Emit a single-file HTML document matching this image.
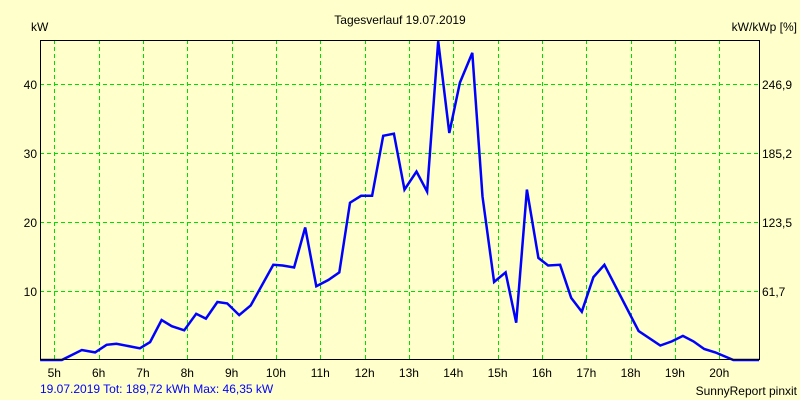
<!DOCTYPE html>
<html><head><meta charset="utf-8"><style>
html,body{margin:0;padding:0;background:#ffffcc;}
svg{display:block;font-family:"Liberation Sans",sans-serif;font-size:12px;}
</style></head><body>
<svg id="chart" width="800" height="400" viewBox="0 0 800 400">
<rect x="0" y="0" width="800" height="400" fill="#ffffcc"/>
<text x="400" y="24" text-anchor="middle" fill="#000">Tagesverlauf 19.07.2019</text>
<text x="31" y="31" fill="#000">kW</text>
<text x="797" y="31" text-anchor="end" fill="#000">kW/kWp [%]</text>
<g id="grid"></g>
<g id="axes"></g>
<g id="series"></g>
<rect x="40.5" y="40.5" width="719" height="319" fill="none" stroke="#000" stroke-width="1"/>
<text x="40" y="393" fill="#0000ff">19.07.2019 Tot: 189,72 kWh Max: 46,35 kW</text>
<text x="797" y="395" text-anchor="end" fill="#000">SunnyReport pinxit</text>
</svg>
<script>
const times=[4.68,5.17,5.62,5.92,6.18,6.4,6.93,7.16,7.42,7.65,7.93,8.2,8.42,8.68,8.9,9.17,9.43,9.94,10.15,10.41,10.66,10.91,11.18,11.43,11.67,11.92,12.17,12.42,12.66,12.9,13.17,13.41,13.66,13.91,14.15,14.43,14.66,14.92,15.18,15.42,15.66,15.92,16.14,16.41,16.66,16.9,17.16,17.41,18.18,18.67,18.93,19.18,19.42,19.66,19.91,20.32,20.9];
const powerKW=[0,0,1.45,1.1,2.2,2.35,1.7,2.6,5.8,4.9,4.3,6.7,6.0,8.4,8.2,6.5,7.9,13.8,13.7,13.4,19.2,10.7,11.6,12.7,22.8,23.8,23.8,32.5,32.8,24.7,27.3,24.4,46.2,32.9,40.2,44.5,23.7,11.3,12.7,5.4,24.7,14.8,13.7,13.8,9.0,7.0,12.0,13.8,4.2,2.1,2.7,3.5,2.7,1.6,1.1,0,0];
const hourTicks=[5,6,7,8,9,10,11,12,13,14,15,16,17,18,19,20];
const yTicks=[10,20,30,40];
const rightTickLabels=["61,7","123,5","185,2","246,9"];
const NS="http://www.w3.org/2000/svg";
function xs(t){return 54.3+44.33*(t-5);}
function ys(v){return 360-6.9*v;}
const grid=document.getElementById('grid'),axes=document.getElementById('axes'),series=document.getElementById('series');
function mk(tag,attrs,parent){const e=document.createElementNS(NS,tag);for(const k in attrs)e.setAttribute(k,attrs[k]);parent.appendChild(e);return e;}
hourTicks.forEach(h=>{
 const x=Math.round(xs(h))+0.5;
 const l=mk('line',{x1:x,x2:x,y1:40,y2:360,stroke:'#00dd00','stroke-dasharray':'4,3'},grid);
 
 
 const t=mk('text',{x:xs(h),y:377,'text-anchor':'middle',fill:'#000'},axes);
 t.textContent=h+'h';
 
 
});
yTicks.forEach((v,i)=>{
 const y=Math.round(ys(v))+0.5;
 const l=mk('line',{x1:40,x2:760,y1:y,y2:y,stroke:'#00dd00','stroke-dasharray':'4,3'},grid);
 
 
 const t=mk('text',{x:37,y:ys(v)+5,'text-anchor':'end',fill:'#000'},axes);
 t.textContent=v;
 
 
 const r=mk('text',{x:762,y:ys(v)+5,fill:'#000'},axes);
 r.textContent=rightTickLabels[i];
 
 
});
const pts=times.map((t,i)=>xs(t).toFixed(1)+','+ys(powerKW[i]).toFixed(1)).join(' ');
const pl=mk('polyline',{points:pts,fill:'none',stroke:'#0000ff','stroke-width':2.5,'stroke-linejoin':'miter'},series);


</script>
</body></html>
